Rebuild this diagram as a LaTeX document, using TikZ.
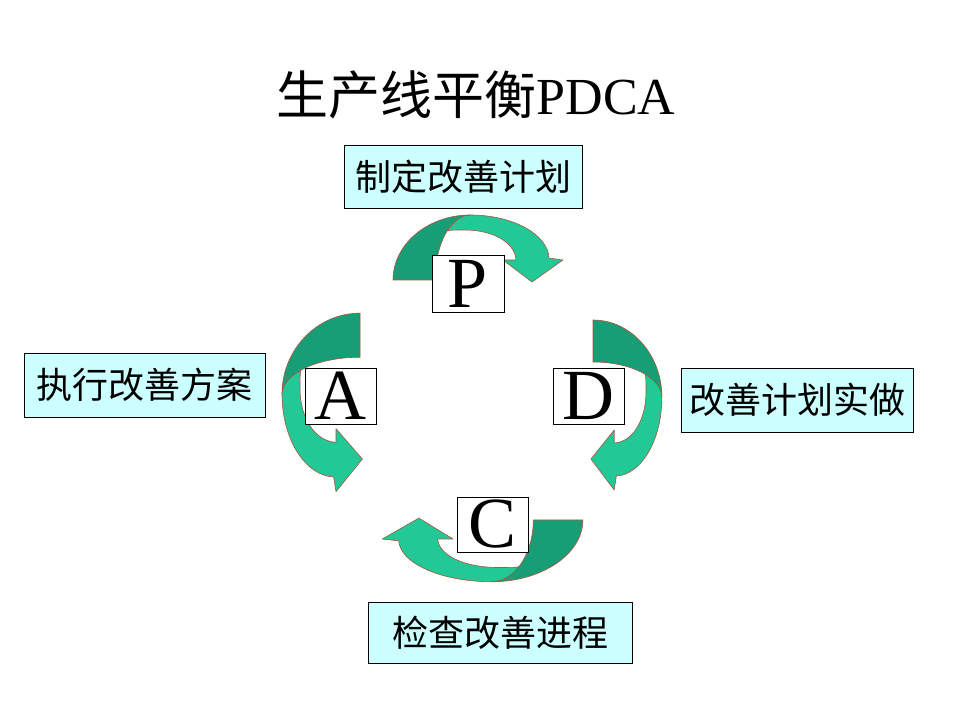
\documentclass[tikz,border=0pt]{standalone}
\usepackage{fontspec}
\setmainfont{Liberation Serif}
\newfontfamily\cjk{Noto Sans CJK SC}
\definecolor{darkg}{RGB}{24,158,118}
\definecolor{lightg}{RGB}{34,200,150}
\definecolor{edgec}{RGB}{160,90,60}
\definecolor{boxfill}{RGB}{204,255,255}
\newcommand{\pdcaarrow}{%
  \path[arrowpart, fill=lightg] (0,65) .. controls (44,65) and (78,45) .. (79,22) -- (93,20) -- (62,-2) -- (33,20) -- (46,20)
     .. controls (45,38) and (22,50) .. (-5,50) .. controls (-12,50) and (-18,50) .. (-22.6,49.4)
     .. controls (-16.5,59.1) and (-8.6,65) .. (0,65) -- cycle;
  \path[arrowpart, fill=darkg] (-77,0) .. controls (-77,36) and (-42,65) .. (0,65)
     .. controls (-19,65) and (-35,36) .. (-35,0) -- cycle;
}
\begin{document}
\begin{tikzpicture}[x=1pt,y=1pt,
  arrowpart/.style={draw=edgec, line width=0.6pt, line join=round},
  stagebox/.style={draw=black, fill=boxfill, line width=0.8pt, inner sep=0pt, font=\cjk\fontsize{36}{40}\selectfont},
  letterbox/.style={draw=black, fill=white, line width=0.8pt, inner sep=0pt, font=\fontsize{72}{72}\selectfont}]
\fill[white] (0,0) rectangle (960,720);
\useasboundingbox (0,0) rectangle (960,720);
% title
\node (title) at (476,625) {\fontsize{52}{60}\selectfont{\cjk 生产线平衡}PDCA};
% arrows
\begin{scope}[cm={1,0,0,1,(470,440)}]\pdcaarrow\end{scope}
\begin{scope}[cm={0,-1,-1,0,(360,326)}, xscale=1.05, yscale=1.2]\pdcaarrow\end{scope}
\begin{scope}[cm={0,-1,1,0,(593,323)}, xscale=1, yscale=1.06]\pdcaarrow\end{scope}
\begin{scope}[cm={-1,0,0,-1,(492,200)}, xscale=1.18, yscale=0.95]\pdcaarrow\end{scope}
% stage boxes
\node[stagebox, minimum width=238pt, minimum height=63pt] (plan) at (463,543.5) {制定改善计划};
\node[stagebox, minimum width=241pt, minimum height=64pt] (act) at (144.5,335) {执行改善方案};
\node[stagebox, minimum width=232pt, minimum height=64pt] (do) at (797,320) {改善计划实做};
\node[stagebox, minimum width=264pt, minimum height=61pt] (check) at (500,87.5) {检查改善进程};
% letter boxes
\node[letterbox, minimum width=72pt, minimum height=57pt] (P) at (468,436.5) {P};
\node[letterbox, minimum width=71pt, minimum height=56pt] (A) at (340.5,324) {A};
\node[letterbox, minimum width=71pt, minimum height=56pt] (D) at (588.5,324) {D};
\node[letterbox, minimum width=71pt, minimum height=55pt] (C) at (492.5,195.5) {C};
\end{tikzpicture}
\end{document}
